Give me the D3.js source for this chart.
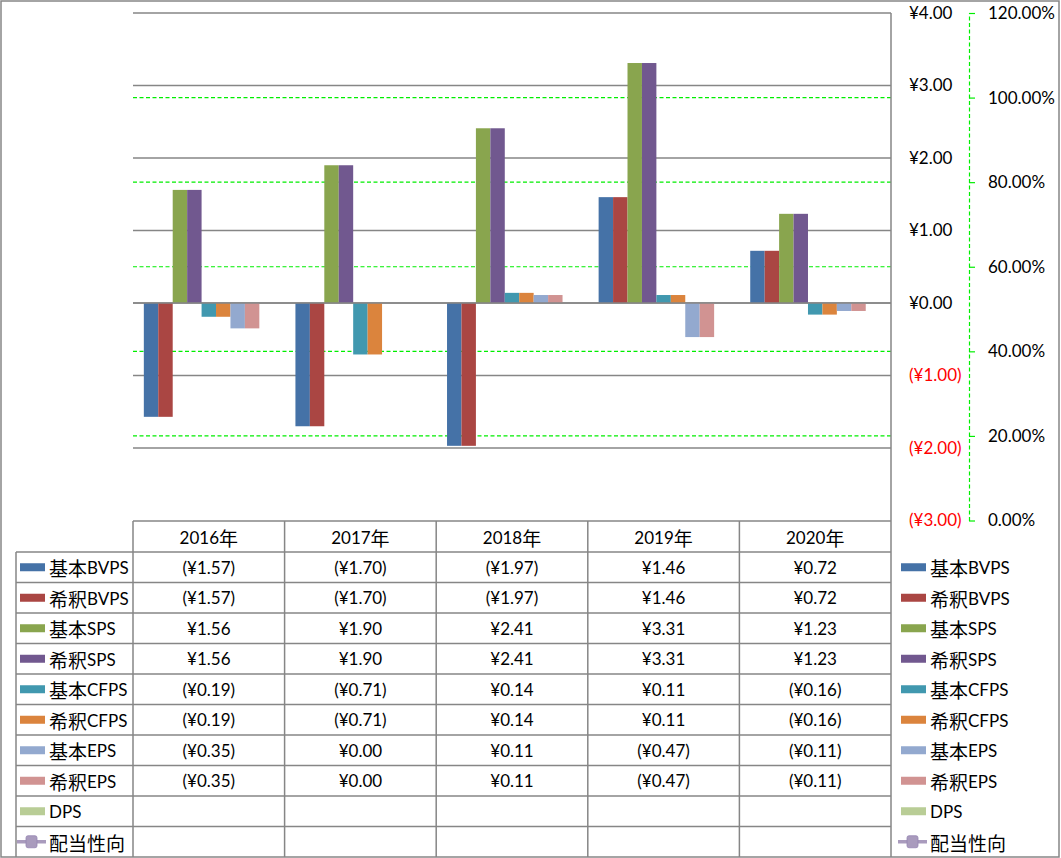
<!DOCTYPE html>
<html>
<head>
<meta charset="utf-8">
<script src="https://cdn.jsdelivr.net/npm/d3@7"></script>
<style>
  html, body { margin: 0; padding: 0; background: #fff; }
  svg { display: block; }
  text { font-family: Lato, "Noto Sans CJK JP", sans-serif; font-size: 17px; fill: #000; }
  tspan.cjk { font-family: "Noto Sans CJK JP", sans-serif; font-size: 19px; }
</style>
</head>
<body>
<svg id="chart" width="1061" height="858"></svg>
<script>
// ---------- data ----------
const years = ["2016年", "2017年", "2018年", "2019年", "2020年"];
const seriesNames = ["基本BVPS", "希釈BVPS", "基本SPS", "希釈SPS", "基本CFPS", "希釈CFPS", "基本EPS", "希釈EPS", "DPS", "配当性向"];
const basicBVPS   = [-1.57, -1.70, -1.97, 1.46, 0.72];
const dilutedBVPS = [-1.57, -1.70, -1.97, 1.46, 0.72];
const basicSPS    = [1.56, 1.90, 2.41, 3.31, 1.23];
const dilutedSPS  = [1.56, 1.90, 2.41, 3.31, 1.23];
const basicCFPS   = [-0.19, -0.71, 0.14, 0.11, -0.16];
const dilutedCFPS = [-0.19, -0.71, 0.14, 0.11, -0.16];
const basicEPS    = [-0.35, 0.00, 0.11, -0.47, -0.11];
const dilutedEPS  = [-0.35, 0.00, 0.11, -0.47, -0.11];
const dps         = [null, null, null, null, null];
const payoutRatio = [null, null, null, null, null];
const leftTicks   = [4, 3, 2, 1, 0, -1, -2, -3];
const rightTicks  = [1.2, 1.0, 0.8, 0.6, 0.4, 0.2, 0.0];
const colors = ["#4572A7", "#AA4643", "#89A54E", "#71588F", "#4198AF", "#DB843D", "#93A9CF", "#D19392", "#B9CD96", "#A99BBD"];

const seriesValues = [basicBVPS, dilutedBVPS, basicSPS, dilutedSPS, basicCFPS, dilutedCFPS, basicEPS, dilutedEPS, dps, payoutRatio];
const barSeries = seriesNames.slice(0, 9);

// ---------- layout ----------
const svg = d3.select("#chart");
const plotL = 133, plotR = 891, plotT = 13, plotB = 520.5;
const tableT = 521, headerB = 552, tableB = 857, legendL = 16;
const GRID = "#868686";
const GREEN = "#00EE00";

const x = d3.scaleBand().domain(years).range([plotL, plotR]).padding(0);
const xs = d3.scaleBand().domain(barSeries).range([0, x.bandwidth()]).paddingInner(0).paddingOuter(0.75);
const yL = d3.scaleLinear().domain([-3, 4]).range([plotB, plotT]);
const yR = d3.scaleLinear().domain([0, 1.2]).range([plotB, plotT]);
const rows = d3.scaleBand().domain(seriesNames).range([headerB, tableB]);

const money = v => v == null ? "" : (v < 0 ? "(¥" + Math.abs(v).toFixed(2) + ")" : "¥" + v.toFixed(2));

// write text with CJK runs in larger tspans
function mixedText(sel, str) {
  sel.text(null);
  const parts = str.match(/[\u3000-\u9fff]+|[^\u3000-\u9fff]+/g) || [];
  parts.forEach(p => {
    const t = sel.append("tspan").text(p);
    if (/[\u3000-\u9fff]/.test(p)) t.attr("class", "cjk");
  });
}

// outer frame
svg.append("rect").attr("x", 1).attr("y", 1).attr("width", 1058).attr("height", 856)
  .attr("fill", "none").attr("stroke", GRID).attr("stroke-width", 1.5);

// primary gridlines
svg.append("g").selectAll("line").data(leftTicks.filter(t => t > -3)).join("line")
  .attr("x1", plotL).attr("x2", plotR)
  .attr("y1", d => yL(d)).attr("y2", d => yL(d))
  .attr("stroke", GRID).attr("stroke-width", 1.3);

// secondary gridlines (green dashed)
svg.append("g").selectAll("line").data(rightTicks.filter(t => t > 0 && t < 1.2)).join("line")
  .attr("x1", plotL).attr("x2", plotR)
  .attr("y1", d => yR(d)).attr("y2", d => yR(d))
  .attr("stroke", GREEN).attr("stroke-width", 1.2).attr("stroke-dasharray", "4,2.5");

// bars
const gBars = svg.append("g");
barSeries.forEach((name, si) => {
  const vals = seriesValues[si];
  gBars.append("g").selectAll("rect")
    .data(years.map((yr, i) => ({ yr, v: vals[i] })).filter(d => d.v != null))
    .join("rect")
    .attr("x", d => x(d.yr) + xs(name))
    .attr("width", xs.bandwidth())
    .attr("y", d => yL(Math.max(0, d.v)))
    .attr("height", d => Math.abs(yL(d.v) - yL(0)))
    .attr("fill", colors[si]);
});

// zero line on top
svg.append("line").attr("x1", plotL).attr("x2", plotR).attr("y1", yL(0)).attr("y2", yL(0))
  .attr("stroke", GRID).attr("stroke-width", 1.5);

// right vertical border of plot/table
svg.append("line").attr("x1", plotR).attr("x2", plotR).attr("y1", plotT).attr("y2", tableB)
  .attr("stroke", GRID).attr("stroke-width", 1.5);

// primary axis labels
const axL = svg.append("g").attr("transform", `translate(${plotR},0)`)
  .call(d3.axisRight(yL).tickValues(leftTicks).tickFormat(money).tickSize(0).tickPadding(18));
axL.select(".domain").remove();
axL.selectAll("text").attr("font-family", null).attr("font-size", null)
  .style("fill", d => d < 0 ? "#FF0000" : "#000");

// secondary axis
const axR = svg.append("g").attr("transform", `translate(969,0)`)
  .call(d3.axisRight(yR).tickValues(rightTicks).tickFormat(d3.format(".2%")).tickSize(6).tickSizeOuter(0).tickPadding(13));
axR.select(".domain").attr("stroke", GREEN).attr("stroke-dasharray", "4,2.5").attr("stroke-width", 1.2);
axR.selectAll(".tick line").attr("stroke", GREEN).attr("stroke-width", 1.2);
axR.selectAll("text").attr("font-family", null).attr("font-size", null).style("fill", "#000");

// ---------- data table ----------
const gT = svg.append("g");
gT.append("line").attr("x1", plotL).attr("x2", plotR).attr("y1", tableT).attr("y2", tableT)
  .attr("stroke", GRID).attr("stroke-width", 1.5);
gT.selectAll("line.row").data(seriesNames).join("line").attr("class", "row")
  .attr("x1", legendL).attr("x2", plotR)
  .attr("y1", d => rows(d)).attr("y2", d => rows(d))
  .attr("stroke", GRID).attr("stroke-width", 1.5);
gT.selectAll("line.col").data(years).join("line").attr("class", "col")
  .attr("x1", d => x(d)).attr("x2", d => x(d))
  .attr("y1", tableT).attr("y2", tableB)
  .attr("stroke", GRID).attr("stroke-width", 1.5);
gT.append("line").attr("x1", legendL).attr("x2", legendL).attr("y1", headerB).attr("y2", tableB)
  .attr("stroke", GRID).attr("stroke-width", 1.5);

// header text
gT.selectAll("text.hdr").data(years).join("text").attr("class", "hdr")
  .attr("x", d => x(d) + x.bandwidth() / 2).attr("y", (tableT + headerB) / 2)
  .attr("text-anchor", "middle").attr("dominant-baseline", "central")
  .each(function (d) { mixedText(d3.select(this), d); });

// values
seriesNames.forEach((name, si) => {
  const vals = seriesValues[si];
  gT.append("g").selectAll("text").data(years.map((yr, i) => ({ yr, v: vals[i] }))).join("text")
    .attr("x", d => x(d.yr) + x.bandwidth() / 2)
    .attr("y", rows(name) + rows.bandwidth() / 2)
    .attr("text-anchor", "middle").attr("dominant-baseline", "central")
    .text(d => money(d.v));
});

// legend keys (left in table, and right-side legend)
function drawKey(g, name, si, sx, tx) {
  const cy = rows(name) + rows.bandwidth() / 2;
  if (name === "配当性向") {
    g.append("line").attr("x1", sx - 3).attr("x2", sx + 26).attr("y1", cy).attr("y2", cy)
      .attr("stroke", colors[si]).attr("stroke-width", 3.5);
    g.append("rect").attr("x", sx + 6).attr("y", cy - 6).attr("width", 11).attr("height", 12).attr("rx", 2)
      .attr("fill", colors[si]).attr("stroke", "#9585b3").attr("stroke-width", 0.8);
  } else {
    g.append("rect").attr("x", sx).attr("y", cy - 4).attr("width", 25).attr("height", 8)
      .attr("fill", colors[si]);
  }
  const t = g.append("text").attr("x", tx).attr("y", cy).attr("dominant-baseline", "central");
  mixedText(t, name);
}
const gLeg = svg.append("g");
seriesNames.forEach((name, si) => {
  drawKey(gLeg, name, si, 20, 49);
  drawKey(gLeg, name, si, 901, 930);
});
</script>
</body>
</html>
